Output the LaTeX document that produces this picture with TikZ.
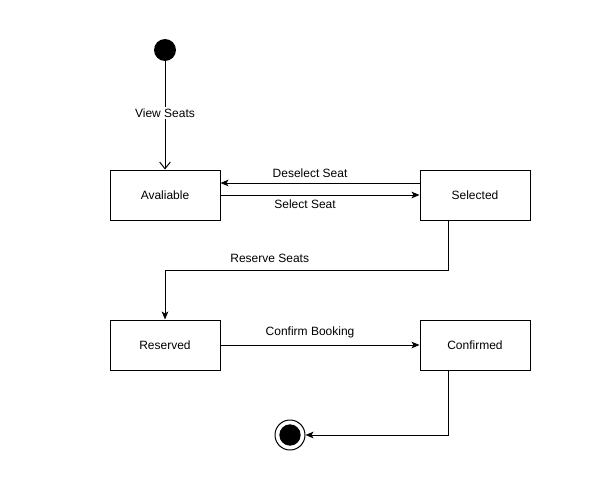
\documentclass[tikz,border=0pt]{standalone}
\usepackage{fontspec}
\setmainfont{Liberation Sans}
\usetikzlibrary{arrows.meta}
\begin{document}
\begin{tikzpicture}[x=0.75pt,y=-0.75pt,
  statebox/.style={draw=black,line width=0.75pt,minimum width=82.5pt,minimum height=37.5pt,inner sep=0pt,font=\fontsize{9}{10}\selectfont},
  conn/.style={draw=black,line width=0.75pt,-{Stealth[length=6pt,width=5pt,inset=1.5pt]}},
  lbl/.style={font=\fontsize{9}{10}\selectfont,inner sep=1pt}]
\useasboundingbox (0,0) rectangle (600,500);
\node[circle,fill=black,minimum size=16.5pt,inner sep=0pt] (init) at (165,50) {};
\node[statebox] (avail) at (165,195) {Avaliable};
\node[statebox] (sel) at (475,195) {Selected};
\node[statebox] (res) at (165,345) {Reserved};
\node[statebox] (conf) at (475,345) {Confirmed};
\node[circle,draw=black,line width=0.75pt,fill=white,minimum size=22.5pt,inner sep=0pt] (fin) at (290,435) {};
\node[circle,fill=black,minimum size=16pt,inner sep=0pt] at (fin) {};
\draw[line width=0.75pt,-{Straight Barb[length=5pt,width=8pt]}] (init) -- node[lbl,fill=white,pos=0.48] {View Seats} (avail);
\draw[conn] (sel.west |- 0,183) -- node[lbl,pos=0.55,yshift=7.5pt] {Deselect Seat} (avail.east |- 0,183);
\draw[conn] (avail.east) -- node[lbl,pos=0.425,yshift=-6.75pt] {Select Seat} (sel.west);
\coordinate (r1) at (448,270);
\coordinate (r2) at (165,270);
\draw[conn] (sel.south -| 448,0) -- (r1) -- node[lbl,pos=0.63,yshift=9pt] {Reserve Seats} (r2) -- (res.north);
\draw[conn] (res.east) -- node[lbl,pos=0.45,yshift=9.75pt] {Confirm Booking} (conf.west);
\coordinate (c1) at (448,435);
\draw[conn] (conf.south -| 448,0) -- (c1) -- (fin.east);
\end{tikzpicture}
\end{document}
